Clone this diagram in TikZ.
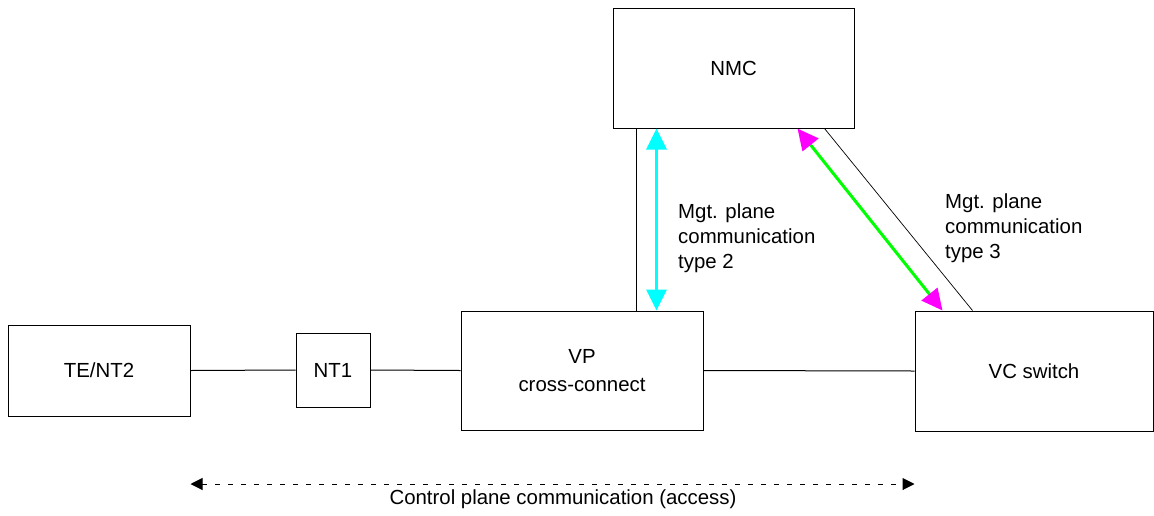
\documentclass[tikz,border=0pt]{standalone}
\usepackage{fontspec}
\setmainfont{Liberation Sans}
\usetikzlibrary{arrows.meta,calc}
\definecolor{cy}{RGB}{0,255,255}
\definecolor{gr}{RGB}{0,255,0}
\definecolor{mg}{RGB}{255,0,255}
\begin{document}
\begin{tikzpicture}[x=1pt,y=-1pt,
  box/.style={draw,line width=1pt,inner sep=0pt,font=\fontsize{20.4}{28}\selectfont,align=center},
  lbl/.style={inner sep=0pt,font=\fontsize{20.4}{25}\selectfont,align=left,anchor=north west},
  conn/.style={line width=1pt},
  cyanarr/.style={line width=3pt,cy,{Triangle[length=21pt,width=20pt]}-{Triangle[length=21pt,width=20pt]}},
  greenarr/.style={line width=3pt,gr,{Triangle[length=21pt,width=20pt,color=mg]}-{Triangle[length=21pt,width=20pt,color=mg]}},
  dasharr/.style={line width=1pt,dash pattern=on 5pt off 8pt,{Triangle[length=12pt,width=12pt]}-{Triangle[length=12pt,width=12pt]}}]
\useasboundingbox (0,0) rectangle (1154,515);
\node[box,minimum width=241pt,minimum height=120pt] (nmc) at (733.5,68) {NMC};
\node[box,minimum width=182pt,minimum height=91pt] (te) at (99,370.5) {TE/NT2};
\node[box,minimum width=74pt,minimum height=74pt] (nt1) at (333,370) {NT1};
\node[box,minimum width=242pt,minimum height=119pt] (vp) at (582,370.5) {VP\\cross-connect};
\node[box,minimum width=238pt,minimum height=120pt] (vc) at (1034,371) {VC switch};
\draw[conn] (te.east) -- (nt1.west);
\draw[conn] (nt1.east) -- (vp.west);
\draw[conn] (vp.east) -- (vc.west);
\coordinate (a1) at ($(nmc.south west)+(24,0)$);
\draw[conn] (a1) -- (a1 |- vp.north);
\coordinate (c1) at ($(nmc.south west)+(44,0)$);
\draw[cyanarr] (c1) -- (c1 |- vp.north);
\coordinate (d1) at ($(nmc.south west)+(212,0)$);
\coordinate (d2) at ($(vc.north west)+(58,0)$);
\draw[line width=0.7pt] (d1) -- (d2);
\coordinate (g1) at ($(nmc.south west)+(185,0)$);
\coordinate (g2) at ($(vc.north west)+(28,0)$);
\draw[greenarr] (g1) -- (g2);
\node[lbl] (t2) at (678,204) {Mgt. plane\\communication\\type 2};
\node[lbl] (t3) at (945,194) {Mgt. plane\\communication\\type 3};
\coordinate (b1) at (te.east |- 0,484);
\coordinate (b2) at (vc.west |- 0,484);
\draw[dasharr] (b1) -- (b2);
\node[inner sep=0pt,font=\fontsize{20.4}{25}\selectfont] (ctl) at (563,499) {Control plane communication (access)};
\end{tikzpicture}
\end{document}
